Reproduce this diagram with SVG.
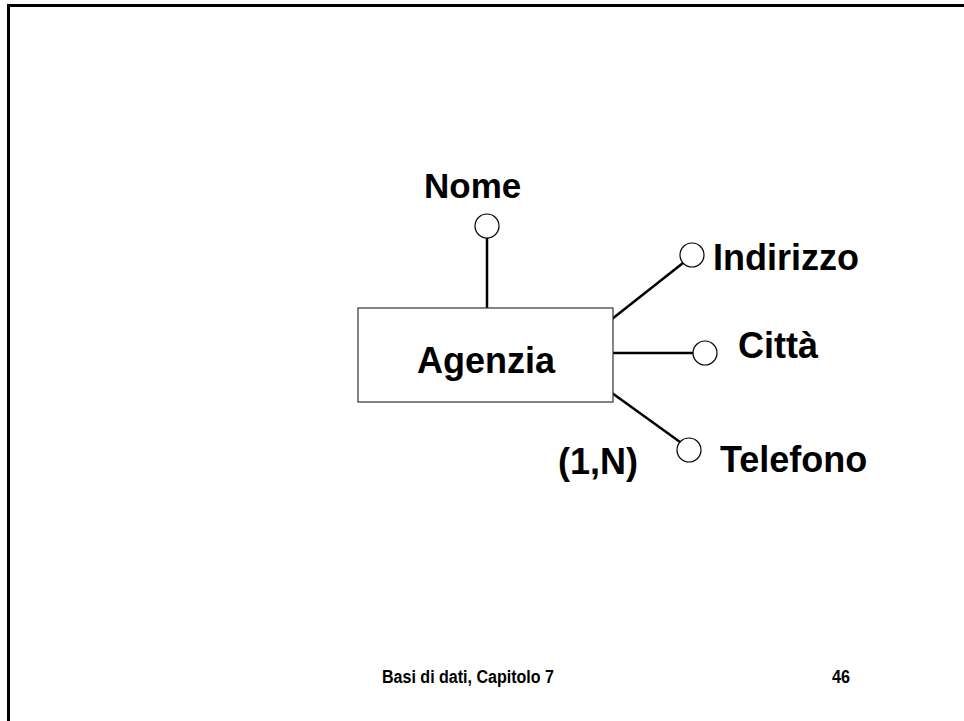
<svg xmlns="http://www.w3.org/2000/svg" width="964" height="721" viewBox="0 0 964 721">
  <style>
    .lbl { font-family: "Liberation Sans", Arial, sans-serif; font-weight: bold; font-size: 36px; fill: #000; }
    .foot { font-family: "Liberation Sans", Arial, sans-serif; font-weight: bold; font-size: 18px; fill: #000; }
    .link { stroke: #000; stroke-width: 2.5; fill: none; }
    .attr { stroke: #000; stroke-width: 1.2; fill: #fff; }
    .entity { stroke: #333; stroke-width: 1.2; fill: #fff; }
  </style>
  <rect width="964" height="721" fill="#fff"/>
  <!-- slide frame, open to the right and bottom -->
  <rect x="8.5" y="5.5" width="1000" height="800" fill="none" stroke="#000" stroke-width="3"/>

  <g id="connectors">
    <line class="link" x1="487" y1="238" x2="487" y2="308"/>
    <line class="link" x1="612" y1="319" x2="683" y2="263"/>
    <line class="link" x1="613" y1="353" x2="693" y2="353"/>
    <line class="link" x1="612" y1="393" x2="680" y2="442"/>
  </g>

  <g id="agenzia">
    <rect class="entity" x="358" y="308" width="255" height="94"/>
    <text class="lbl" x="486" y="373" text-anchor="middle">Agenzia</text>
  </g>

  <g id="nome">
    <circle class="attr" cx="487" cy="226" r="12"/>
    <text class="lbl" x="424" y="198" style="font-size:35px">Nome</text>
  </g>

  <g id="indirizzo">
    <circle class="attr" cx="692" cy="255" r="12"/>
    <text class="lbl" x="713" y="270">Indirizzo</text>
  </g>

  <g id="citta">
    <circle class="attr" cx="705" cy="353" r="12"/>
    <text class="lbl" x="738" y="358">Città</text>
  </g>

  <g id="telefono">
    <circle class="attr" cx="689" cy="450" r="12"/>
    <text class="lbl" x="720" y="472">Telefono</text>
  </g>

  <g id="cardinalita">
    <text class="lbl" x="558" y="474">(1,N)</text>
  </g>

  <text class="foot" x="382" y="683" textLength="172" lengthAdjust="spacingAndGlyphs">Basi di dati, Capitolo 7</text>
  <text class="foot" x="832" y="683" textLength="18" lengthAdjust="spacingAndGlyphs">46</text>
</svg>
